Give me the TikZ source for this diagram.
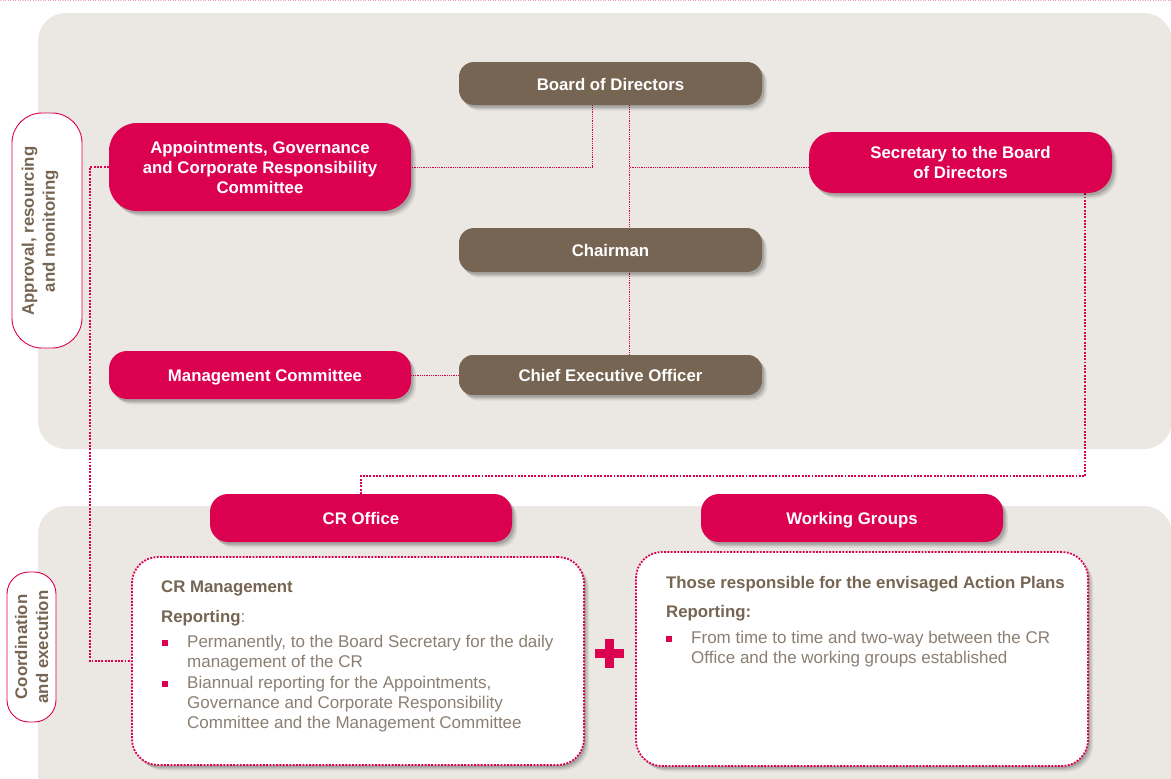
\documentclass[tikz,border=0pt]{standalone}
\usepackage{fontspec}
\setmainfont{Liberation Sans}
\usetikzlibrary{calc,shadows}

\definecolor{crpink}{HTML}{DC0050}
\definecolor{crbrown}{HTML}{766552}
\definecolor{panelgray}{HTML}{EBE8E3}
\definecolor{headtxt}{HTML}{766552}
\definecolor{bodytxt}{HTML}{8B7F73}

\pgfdeclarelayer{backdrop}
\pgfdeclarelayer{links}
\pgfsetlayers{backdrop,links,main}

\tikzset{
  softshadow/.style={
      general shadow={fill=black, opacity=0.07, shadow xshift=5pt, shadow yshift=-5.5pt},
      general shadow={fill=black, opacity=0.10, shadow xshift=3.5pt, shadow yshift=-4pt},
      general shadow={fill=black, opacity=0.14, shadow xshift=2pt, shadow yshift=-2.5pt}},
  orgbox/.style={text=white, font=\fontsize{16.8}{20}\selectfont\bfseries,
      align=center, inner sep=0pt, softshadow},
  % single-line labels: fixed text box so capitals sit on the box centre
  oneline/.style={text height=13.6pt, text depth=0pt},
  pinkbox/.style={orgbox, fill=crpink},
  brownbox/.style={orgbox, fill=crbrown},
  fineline/.style={crpink, line width=0.7pt, dash pattern=on 0.9pt off 0.9pt},
  coarseline/.style={crpink, line width=1.8pt, dash pattern=on 1.9pt off 1.4pt},
  sidetag/.style={draw=crpink, line width=0.9pt, fill=white, rounded corners=30pt},
  sidetxt/.style={text=headtxt, font=\fontsize{16.8}{21}\selectfont\bfseries,
      align=center, rotate=90, inner sep=0pt},
  detailbox/.style={draw=crpink, fill=white, line width=1.8pt,
      dash pattern=on 1.9pt off 1.4pt, rounded corners=26pt, softshadow},
  headline/.style={text=headtxt, font=\fontsize{16.8}{20}\selectfont\bfseries,
      anchor=base west, inner sep=0pt},
  % the base anchor of a multi-line node sits on its last line
  bodyline/.style={text=bodytxt, font=\fontsize{17}{20.3}\selectfont,
      anchor=base west, inner sep=0pt, align=left},
  bulletsq/.style={fill=crpink, minimum size=6pt, inner sep=0pt},
}

\begin{document}
\begin{tikzpicture}[x=1pt, y=-1pt]
\useasboundingbox (0,0) rectangle (1171,779);

% background panels and the dotted rule along the top
\begin{pgfonlayer}{backdrop}
  \fill[panelgray, rounded corners=28pt] (38,13) rectangle (1172,449);
  \fill[panelgray, rounded corners=28pt] (38,506) rectangle (1172,820);
  \draw[crpink!40, line width=0.8pt, dash pattern=on 1pt off 1.5pt] (0,0.8) -- (1171,0.8);
\end{pgfonlayer}

% side tags
\node[sidetag, minimum width=70pt, minimum height=235pt] (tagA) at (47,230.5) {};
\node[sidetxt] (tagAtxt) at (40,231) {Approval, resourcing\\and monitoring};
\node[sidetag, minimum width=49pt, minimum height=150pt, rounded corners=22pt] (tagB) at (31.5,647) {};
\node[sidetxt] (tagBtxt) at (31.5,647) {Coordination\\and execution};

% governance bodies
\node[brownbox, oneline, minimum width=303pt, minimum height=43pt, rounded corners=15pt] (bod) at (610.5,83.5) {Board of Directors};
\node[pinkbox, minimum width=302pt, minimum height=88pt, rounded corners=28pt] (agcr) at (260,167)
  {Appointments, Governance\\and Corporate Responsibility\\Committee};
\node[pinkbox, minimum width=303pt, minimum height=61pt, rounded corners=24pt] (sec) at (960.5,162.5)
  {Secretary to the Board\\of Directors};
\node[brownbox, oneline, minimum width=303pt, minimum height=44pt, rounded corners=15pt] (chair) at (610.5,250) {Chairman};
\node[pinkbox, oneline, minimum width=302pt, minimum height=48pt, rounded corners=18pt] (mc) at (260,375) {\hspace*{10pt}Management Committee};
\node[brownbox, oneline, minimum width=303pt, minimum height=40pt, rounded corners=14pt] (ceo) at (610.5,375) {Chief Executive Officer};

% coordination and execution
\node[pinkbox, oneline, minimum width=302pt, minimum height=48pt, rounded corners=18pt] (cro) at (361,518) {CR Office};
\node[pinkbox, oneline, minimum width=302pt, minimum height=48pt, rounded corners=18pt] (wg) at (852,518) {Working Groups};

\node[detailbox, minimum width=452pt, minimum height=208pt] (crm) at (358,661) {};
\node[headline] (crmHead) at (161,592) {CR Management};
\node[headline] (crmRep) at (161,622) {Reporting{\mdseries\color{bodytxt}:}};
\node[bulletsq] (crmB1) at (164.5,643) {};
\node[bodyline] (crmT1) at (187,667.3) {Permanently, to the Board Secretary for the daily\\management of the CR};
\node[bulletsq] (crmB2) at (164.5,684) {};
\node[bodyline] (crmT2) at (187,728.6) {Biannual reporting for the Appointments,\\Governance and Corporate Responsibility\\Committee and the Management Committee};

\node[detailbox, minimum width=452pt, minimum height=214pt] (ap) at (862,659) {};
\node[headline] (apHead) at (666,588) {Those responsible for the envisaged Action Plans};
\node[headline] (apRep) at (666,617) {Reporting:};
\node[bulletsq] (apB1) at (669,639) {};
\node[bodyline] (apT1) at (691,663.3) {From time to time and two-way between the CR\\Office and the working groups established};

% plus sign between the two detail boxes
\fill[crpink] (604.8,639) rectangle (613.8,668);
\fill[crpink] (595,649) rectangle (624,658);

% connectors
\coordinate (trunkTop) at ([xshift=18.5pt]bod.south);
\coordinate (trunkEnd) at ([xshift=18.5pt]ceo.north);
\begin{pgfonlayer}{links}
  \draw[fineline] ([xshift=-18.5pt]bod.south) |- (agcr.east);
  \draw[fineline] (trunkTop) -- (trunkEnd);
  \draw[fineline] ($(sec.west)+(0,5)$) -- ($(trunkTop |- sec.west)+(0,5)$);
  \draw[fineline] (mc.east) -- (ceo.west);
  \draw[coarseline] ([xshift=-27pt]sec.south east) |- ($(cro.north)+(0,-18)$) -- (cro.north);
  \draw[coarseline] (agcr.west) -- ++(-19,0) |- (crm.west);
\end{pgfonlayer}
\end{tikzpicture}
\end{document}
